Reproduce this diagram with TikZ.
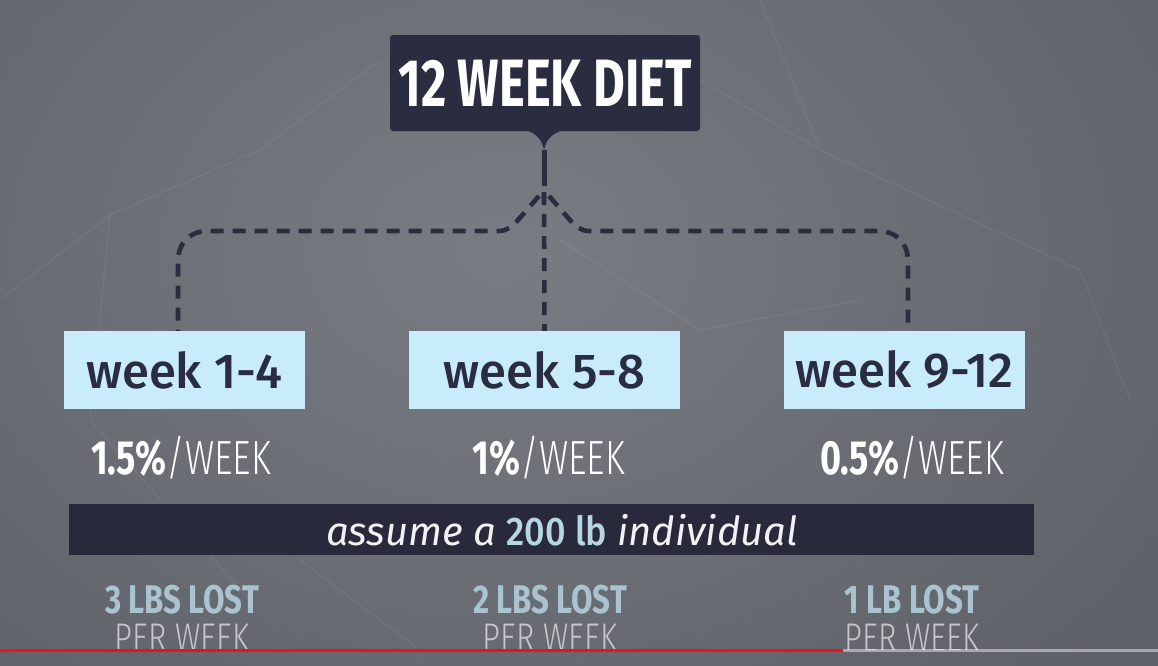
\documentclass[tikz,border=0pt]{standalone}
\usepackage{fontspec}
\setmainfont{Fira Sans}
\newfontfamily\titlefont[FakeStretch=0.73]{Fira Sans Bold}
\newfontfamily\pctb[FakeStretch=0.75]{Fira Sans Bold}
\newfontfamily\pctl[FakeStretch=0.75]{Fira Sans Light}
\newfontfamily\lostb[FakeStretch=0.78]{Fira Sans Bold}
\newfontfamily\lostl[FakeStretch=0.78]{Fira Sans Light}
\newfontfamily\barfont{Fira Sans Italic}
\newfontfamily\barup[FakeStretch=0.9]{Fira Sans Medium}
\newfontfamily\weekfont{Fira Sans Medium}
\usetikzlibrary{shadings}
\definecolor{navy}{HTML}{2A2C40}
\definecolor{barnavy}{HTML}{282A3C}
\definecolor{lightbox}{HTML}{C9ECFB}
\definecolor{bgmid}{HTML}{7A7C83}
\definecolor{bgedge}{HTML}{5F6168}
\definecolor{pale}{HTML}{B7D6E4}
\definecolor{lostblue}{HTML}{A9C4D0}
\definecolor{perweek}{HTML}{C4C6CA}
\definecolor{ytred}{HTML}{F0101A}
\tikzset{
  topbox/.style={fill=navy, text=white, rounded corners=3pt, minimum width=310pt, minimum height=96pt, inner sep=0pt, font=\titlefont\fontsize{67}{70}\selectfont},
  weekbox/.style={fill=lightbox, text=navy, minimum height=78pt, inner sep=0pt, font=\weekfont\fontsize{49}{52}\selectfont},
  dashline/.style={draw=navy, line width=4.6pt, dash pattern=on 13pt off 9pt},
  pct/.style={text=white, inner sep=0pt, font=\fontsize{48}{50}\selectfont},
  barbox/.style={fill=barnavy, minimum width=965pt, minimum height=51pt, inner sep=0pt},
  bartext/.style={inner sep=0pt, text=white!90!gray, font=\barfont\fontsize{40}{42}\selectfont},
  lost/.style={text=lostblue, inner sep=0pt, font=\lostb\fontsize{40}{42}\selectfont},
  perw/.style={text=perweek, inner sep=0pt, font=\lostl\fontsize{40}{42}\selectfont},
  faint/.style={draw=white, opacity=0.07, line width=1pt}
}
\begin{document}
\begin{tikzpicture}[x=1pt,y=-1pt]
\useasboundingbox (0,0) rectangle (1158,665);
% background
\fill[bgedge] (0,0) rectangle (1158,665);
\shade[inner color=bgmid, outer color=bgedge] (-300,-350) rectangle (1300,850);
% faint network lines
\draw[faint] (0,300) -- (110,215) -- (260,150) -- (380,60);
\draw[faint] (110,215) -- (90,420) -- (250,600);
\draw[faint] (700,80) -- (820,150) -- (1080,270) -- (1130,400);
\draw[faint] (820,150) -- (760,0);
\draw[faint] (560,240) -- (700,330) -- (860,300);
\draw[faint] (300,560) -- (420,650);
% top box
\node[topbox] (top) at (545,83) {12 WEEK DIET};
\coordinate (tip) at (544,150);
\coordinate (stem) at (544,186);
\fill[navy] (526,130) .. controls (537,134) and (542,140) .. (tip) .. controls (546,140) and (551,134) .. (563,130) -- cycle;
\draw[navy, line width=5pt] (tip) -- (stem);
% week boxes
\node[weekbox, minimum width=241pt] (b1) at (184.5,370) {week 1-4};
\node[weekbox, minimum width=271pt] (b2) at (544.5,370) {week 5-8};
\node[weekbox, minimum width=241pt] (b3) at (904.5,370) {week 9-12};
% connectors
\draw[dashline] (544,192) -- (b2.north);
\draw[dashline] (539,196) -- (518,220) .. controls (512,227) and (507,231) .. (498,231) -- (208,231) .. controls (190,231) and (178,243) .. (178,261) -- ([xshift=-6.5pt]b1.north);
\draw[dashline] (549,196) -- (570,220) .. controls (576,227) and (581,231) .. (590,231) -- (878,231) .. controls (896,231) and (908,243) .. (908,261) -- ([xshift=3.5pt]b3.north);
% percentages
\node[pct] (p1) at (181,458) {{\pctb 1.5\%}{\pctl /WEEK}};
\node[pct] (p2) at (549,458) {{\pctb 1\%}{\pctl /WEEK}};
\node[pct] (p3) at (912,458) {{\pctb 0.5\%}{\pctl /WEEK}};
% assumption bar
\node[barbox] (bar) at (551.5,529.5) {};
\node[bartext] (bt) at (562,530) {assume a \textcolor{pale}{\barup 200 lb} individual};
% bottom results
\node[lost] (l1) at (182,600) {3 LBS LOST};
\node[lost] (l2) at (550,600) {2 LBS LOST};
\node[lost] (l3) at (912,600) {1 LB LOST};
\begin{scope}
\clip (0,0) rectangle (1158,649);
\node[perw] (w1) at (182,638) {PER WEEK};
\node[perw] (w2) at (550,638) {PER WEEK};
\node[perw] (w3) at (912,638) {PER WEEK};
\end{scope}
% progress bar
\fill[ytred] (0,649) rectangle (843,652);
\fill[white, opacity=0.45] (843,649) rectangle (1158,652);
\end{tikzpicture}
\end{document}
